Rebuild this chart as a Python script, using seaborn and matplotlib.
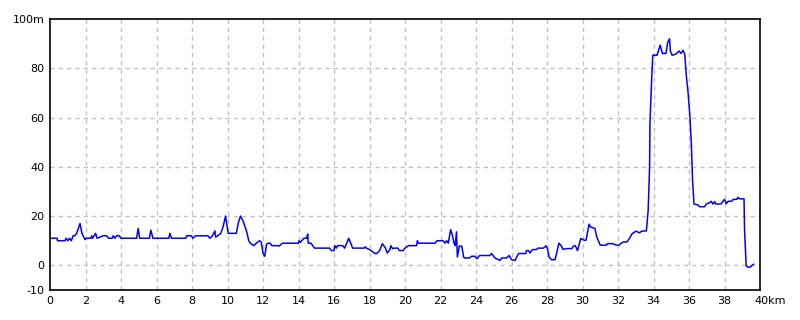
import matplotlib
matplotlib.use("Agg")
import matplotlib.pyplot as plt
import matplotlib.transforms as mtransforms
import seaborn as sns
import pandas as pd

km = [0.0, 0.4, 0.42, 0.85, 0.9, 1.0, 1.1, 1.2, 1.3, 1.4, 1.5, 1.6, 1.69, 1.8, 1.9, 1.97, 2.05,
      2.3, 2.35, 2.4, 2.57, 2.65, 3.0, 3.2, 3.3, 3.5, 3.56, 3.65, 3.75, 3.9, 4.0, 4.1,
      4.88, 4.97, 5.05, 5.6, 5.68, 5.8, 6.7, 6.75, 6.85, 7.65, 7.7, 7.97, 8.05, 8.2, 8.9,
      9.0, 9.15, 9.29, 9.33, 9.45, 9.62, 9.75, 9.89, 10.04, 10.5, 10.6, 10.73, 10.88, 10.97,
      11.07, 11.2, 11.28, 11.48, 11.63, 11.8, 11.9, 12.0, 12.1, 12.2, 12.3, 12.4, 12.5,
      12.8, 12.9, 13.1, 14.0, 14.03, 14.1, 14.3, 14.45, 14.52, 14.55, 14.7, 14.9, 15.75,
      15.85, 16.0, 16.04, 16.13, 16.2, 16.5, 16.6, 16.83, 17.05, 17.7, 17.77, 17.82, 18.0,
      18.2, 18.3, 18.4, 18.57, 18.72, 18.9, 19.0, 19.15, 19.2, 19.3, 19.4, 19.6, 19.68,
      19.9, 20.0, 20.2, 20.65, 20.7, 20.75, 21.7, 21.8, 22.15, 22.25, 22.35, 22.44, 22.57,
      22.68, 22.76, 22.83, 22.9, 22.95, 23.06, 23.2, 23.3, 23.35, 23.65, 23.75, 23.93,
      24.06, 24.2, 24.78, 24.88, 25.07, 25.35, 25.45, 25.72, 25.87, 26.0, 26.2, 26.4, 26.8,
      26.85, 26.95, 27.05, 27.13, 27.2, 27.4, 27.5, 27.8, 27.94, 28.03, 28.12, 28.25,
      28.45, 28.54, 28.67, 28.8, 28.9, 29.1, 29.4, 29.5, 29.6, 29.72, 29.9, 30.1, 30.2,
      30.37, 30.45, 30.7, 30.8, 31.0, 31.35, 31.4, 31.7, 31.9, 32.05, 32.2, 32.3, 32.5,
      32.55, 32.65, 32.8, 33.02, 33.2, 33.35, 33.6, 33.7, 33.78, 33.8, 33.9, 33.96, 34.2,
      34.38, 34.5, 34.7, 34.8, 34.9, 34.95, 35.05, 35.25, 35.44, 35.55, 35.66, 35.76,
      35.85, 35.95, 36.05, 36.13, 36.2, 36.28, 36.5, 36.6, 36.88, 36.97, 37.15, 37.25,
      37.35, 37.45, 37.5, 37.8, 38.0, 38.1, 38.2, 38.4, 38.5, 38.7, 38.75, 38.85, 39.1,
      39.13, 39.22, 39.3, 39.45, 39.55, 39.65]

elevation = [11, 11, 10, 10, 11, 10, 11, 10, 12, 12, 13, 15, 17, 13, 11.5, 10.5, 11,
             11, 12, 11, 13, 11, 12, 12, 11, 11, 12, 11, 12, 12, 11, 11,
             11, 15, 11, 11, 14.3, 11, 11, 13, 11, 11, 12, 12, 11, 12, 12,
             11, 12, 14, 11.5, 12, 13, 15.6, 20, 13, 13, 17, 20, 18, 16,
             14, 10, 9, 8, 9, 10, 9.5, 5, 3.7, 8.6, 9, 9, 8,
             8, 7.8, 9, 9, 10, 9.3, 11, 11, 12.7, 9, 9, 7, 7,
             6, 6, 8, 7, 8, 8, 7, 11, 7, 7, 7.5, 7, 6.4,
             5.4, 4.8, 4.8, 6, 8.8, 7, 5, 6.4, 8, 6.8, 7, 7, 6,
             6, 7, 8, 8, 10, 9, 9, 10, 10, 9, 10, 9, 14.5,
             12, 9, 8, 13.6, 3.4, 7.8, 7.8, 3.4, 3, 3, 3.7, 3.7,
             2.7, 4, 4, 4.8, 3, 2, 3, 3, 4, 2.3, 2, 4.8, 4.8,
             6, 6, 5, 6, 6.4, 6.4, 7, 7, 7.9, 6.8, 3.4, 2.3,
             2.3, 4.8, 9, 8, 6.5, 6.8, 6.8, 7.9, 7.9, 6, 10.9, 10.2, 10.2,
             16.7, 15.6, 15, 11.6, 8.2, 8.2, 8.8, 8.8, 8.2, 8.2, 9.1, 9.5, 9.5,
             10, 11, 12.9, 13.9, 13.2, 13.9, 14, 22.4, 40, 57.8, 76, 85.3, 85.3,
             89.4, 86, 86, 90.5, 92, 87, 85.3, 85.7, 87, 86, 87.3, 85.7,
             76.9, 70, 60.5, 49.7, 34.7, 24.9, 24.5, 23.8, 23.8, 24.9, 25.4, 26,
             24.9, 25.9, 24.9, 24.9, 26.8, 25, 26, 26, 26.8, 26.8, 27.6, 27, 27,
             14.3, 0, -0.7, -0.7, 0, 0.5]

x_ticks = list(range(0, 41, 2))
x_labels = [str(v) for v in range(0, 40, 2)] + ["40km"]
y_ticks = [-10, 0, 20, 40, 60, 80, 100]
y_labels = ["-10", "0", "20", "40", "60", "80", "100m"]

sns.set_style("white")
plt.rcParams['font.family'] = ['DejaVu Sans']

df = pd.DataFrame({"km": km, "elevation": elevation})

fig = plt.figure(figsize=(8, 3.2), dpi=100)
ax = fig.add_axes([50/800, 1 - 290/320, 710/800, 271/320])

for v in x_ticks[1:-1]:
    ax.axvline(v, color="#c0c0c0", lw=1, ls=(0, (3, 3)), zorder=0)
for v in y_ticks[1:-1]:
    ax.axhline(v, color="#c0c0c0", lw=1, ls=(0, (3, 3)), zorder=0)

sns.lineplot(data=df, x="km", y="elevation", ax=ax, color="#0000ff", lw=1.1,
             sort=False, estimator=None)

ax.set_xlim(0, 40)
ax.set_ylim(-10, 100)
ax.set_xticks(x_ticks)
ax.set_xticklabels(x_labels)
ax.set_yticks(y_ticks)
ax.set_yticklabels(y_labels)
ax.set_xlabel("")
ax.set_ylabel("")
ax.tick_params(axis="both", length=0, labelsize=8, colors="black", pad=4)
last = ax.get_xticklabels()[-1]
last.set_horizontalalignment("left")
last.set_transform(last.get_transform() +
                   mtransforms.ScaledTranslation(-6/100, 0, fig.dpi_scale_trans))
for s in ax.spines.values():
    s.set_color("black")
    s.set_linewidth(1.2)
    s.set_visible(True)

fig.savefig("out.png", dpi=100, facecolor="white")
